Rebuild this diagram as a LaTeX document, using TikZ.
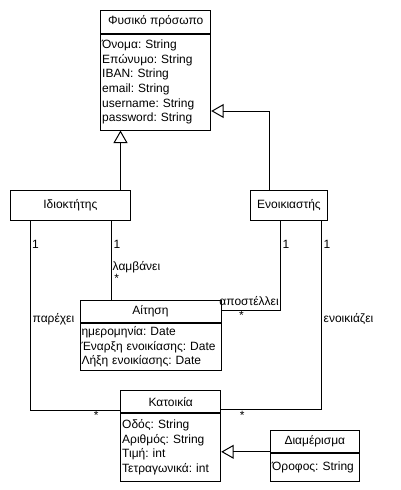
\documentclass[tikz,border=0pt]{standalone}
\usepackage{fontspec}
\setmainfont{Liberation Sans}
\usetikzlibrary{arrows.meta, positioning}

\tikzset{
    cls/.style={draw, line width=1pt, inner sep=0pt, font=\fontsize{12}{14.7}\selectfont},
    attrs/.style={draw, line width=1pt, inner xsep=1.5pt, inner ysep=0pt, align=left, font=\fontsize{12}{14.7}\selectfont\frenchspacing},
    gen/.style={-{Triangle[open, length=12.5pt, width=14pt]}, line width=1pt},
    assoc/.style={line width=1pt},
    lbl/.style={inner sep=0pt, font=\fontsize{12}{14.7}\selectfont}
}

\begin{document}
\begin{tikzpicture}[x=1pt, y=-1pt]
                        \useasboundingbox (0, 0) rectangle (400, 490);

                        \node[cls, minimum width=110, minimum height=23] (fp) at (155.7, 21.5) {Φυσικό πρόσωπο};
                        \node[attrs, minimum width=110, text width=107, minimum height=96, below=0pt of fp] (fpa) {Όνομα: String\\Επώνυμο: String\\IBAN: String\\email: String\\username: String\\password: String};
                        \node[cls, minimum width=119.3, minimum height=29.5] (idio) at (70.35, 205.5) {Ιδιοκτήτης};
                        \node[cls, minimum width=76.6, minimum height=29.5] (enoik) at (289, 205.5) {Ενοικιαστής};
                        \node[cls, minimum width=141, minimum height=21.6] (ait) at (150.5, 311.5) {Αίτηση};
                        \node[attrs, minimum width=141, text width=138, minimum height=47, below=0pt of ait] (aita) {ημερομηνία: Date\\Έναρξη ενοικίασης: Date\\Λήξη ενοικίασης: Date};
                        \node[cls, minimum width=100, minimum height=21.4] (kat) at (170.7, 401.6) {Κατοικία};
                        \node[attrs, minimum width=100, text width=97, minimum height=67.7, below=0pt of kat] (kata) {Οδός: String\\Αριθμός: String\\Τιμή: int\\Τετραγωνικά: int};
                        \node[cls, minimum width=88.3, minimum height=21.6] (diam) at (314.85, 441.5) {Διαμέρισμα};
                        \node[attrs, minimum width=88.3, text width=85.3, minimum height=27.7, below=0pt of diam] (diama) {Όροφος: String};

                        \draw[gen] ([xshift=-10pt]idio.north east) -- ([xshift=-10pt]idio.north east |- fpa.south);
                        \draw[gen] ([xshift=19.3pt]enoik.north west) |- ([yshift=-29pt]fpa.east);
                        \draw[gen] ([yshift=1pt]diama.north west) -- ([yshift=1pt]diama.north west -| kata.east);

                        \draw[assoc]
                        ([xshift=20pt]idio.south west) |- ([yshift=-8.4pt]kat.west)
                            node[lbl, pos=0, anchor=west, xshift=1.5pt, yshift=-24pt] (m1) {1}
                            node[lbl, pos=0, anchor=west, xshift=2pt, yshift=-98pt] (r1) {παρέχει}
                            node[lbl, pos=1, xshift=-24pt, yshift=-5pt] (m2) {*};
                        \draw[assoc]
                        ([xshift=-19.3pt]idio.south east) -- ([xshift=-19.3pt]idio.south east |- ait.north)
                            node[lbl, pos=0, anchor=west, xshift=2pt, yshift=-24pt] (m3) {1}
                            node[lbl, pos=0, anchor=west, xshift=1pt, yshift=-46pt] (r2) {λαμβάνει}
                            node[lbl, pos=0, xshift=5.6pt, yshift=-57.5pt] (m4) {*};
                        \draw[assoc]
                        ([xshift=30pt]enoik.south west) |- ([yshift=1.5pt]ait.east)
                            node[lbl, pos=0, anchor=west, xshift=2pt, yshift=-24pt] (m5) {1}
                            node[lbl, pos=0.5, anchor=south east, xshift=-1pt, yshift=4pt] (r3) {αποστέλλει}
                            node[lbl, pos=1, xshift=20pt, yshift=-5pt] (m6) {*};
                        \draw[assoc]
                        ([xshift=-6.6pt]enoik.south east) |- ([yshift=-7.7pt]kat.east)
                            node[lbl, pos=0, anchor=west, xshift=2pt, yshift=-24pt] (m7) {1}
                            node[lbl, pos=0, anchor=west, xshift=2pt, yshift=-98pt] (r4) {ενοικιάζει}
                            node[lbl, pos=1, xshift=21pt, yshift=-6.5pt] (m8) {*};
                    \end{tikzpicture}
\end{document}
